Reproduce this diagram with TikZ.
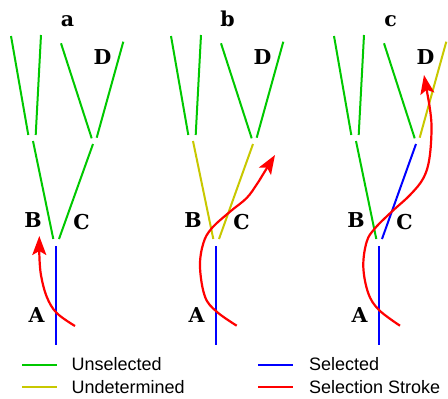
\documentclass[tikz,border=0pt]{standalone}
\usepackage{fontspec}
\setmainfont{Liberation Sans}
\newfontfamily\lblfont{DejaVu Serif}
\usetikzlibrary{arrows.meta}
\definecolor{cgreen}{RGB}{0,200,0}
\definecolor{cyellow}{RGB}{200,200,0}
\definecolor{cblue}{RGB}{0,0,255}
\definecolor{cred}{RGB}{255,0,0}
\tikzset{
  seg/.style={line width=2pt},
  stroke/.style={cred, line width=2.2pt, -{Stealth[length=19pt,width=14pt,inset=4pt]}},
  lbl/.style={anchor=base, inner sep=0pt, font=\lblfont\bfseries\fontsize{20.5}{24}\selectfont},
  legtext/.style={anchor=base west, inner sep=0pt, font=\fontsize{18}{21}\selectfont},
  legline/.style={line width=2pt},
}
\newcommand\drawbranches[9]{%
\begin{scope}[xshift=#2pt]
  \coordinate (#1l1s) at (11,36);      \coordinate (#1l1e) at (28.3,135);
  \coordinate (#1l2s) at (41,35);      \coordinate (#1l2e) at (35.7,135);
  \coordinate (#1l3s) at (61,43.3);    \coordinate (#1l3e) at (91.7,138.3);
  \coordinate (#1l4s) at (123.3,41.7); \coordinate (#1l4e) at (96.7,137.7);
  \coordinate (#1l5s) at (33,141);     \coordinate (#1l5e) at (53.3,239);
  \coordinate (#1l6s) at (93,144);     \coordinate (#1l6e) at (59,239);
  \coordinate (#1l7s) at (56,246);     \coordinate (#1l7e) at (56,345);
  \draw[seg,#3] (#1l1s) -- (#1l1e);
  \draw[seg,#4] (#1l2s) -- (#1l2e);
  \draw[seg,#5] (#1l3s) -- (#1l3e);
  \draw[seg,#6] (#1l4s) -- (#1l4e);
  \draw[seg,#7] (#1l5s) -- (#1l5e);
  \draw[seg,#8] (#1l6s) -- (#1l6e);
  \draw[seg,#9] (#1l7s) -- (#1l7e);
  \node[lbl] (#1title) at (67.5,26) {#1};
  \node[lbl] (#1D) at (102.5,64) {D};
  \node[lbl] (#1B) at (33,227) {B};
  \node[lbl] (#1C) at (81.5,229.5) {C};
  \node[lbl] (#1A) at (36.5,322) {A};
\end{scope}}
\begin{document}
\begin{tikzpicture}[x=1pt,y=-1pt]
\useasboundingbox (0,0) rectangle (448,399);
\drawbranches{a}{0}{cgreen}{cgreen}{cgreen}{cgreen}{cgreen}{cgreen}{cblue}
\drawbranches{b}{160}{cgreen}{cgreen}{cgreen}{cgreen}{cyellow}{cyellow}{cblue}
\drawbranches{c}{323}{cgreen}{cgreen}{cgreen}{cyellow}{cgreen}{cblue}{cblue}
% selection strokes
\coordinate (ra0) at (75,326);
\coordinate (ra1) at (39.3,236);
\draw[stroke] plot[smooth, tension=0.6] coordinates {(ra0) (56.7,313) (46.7,296.7) (40.8,274) (39.3,253)} -- (ra1);
\coordinate (rb0) at (236.7,325.7);
\coordinate (rb1) at (275,155);
\draw[stroke] plot[smooth, tension=0.6] coordinates {(rb0) (216.7,311.7) (205,296.7) (200,267) (203.3,243.3) (211.7,228.3) (230,211.7) (246.7,198) (257,184) (262,176)} -- (rb1);
\coordinate (rc0) at (400,325.7);
\coordinate (rc1) at (424,75);
\draw[stroke] plot[smooth, tension=0.6] coordinates {(rc0) (379,310) (368.3,293.3) (363.3,266.7) (366.7,241.7) (375,228.3) (391.7,211.7) (410,195) (423.3,178.3) (429.5,158) (431.5,125) (428.5,100)} -- (rc1);
% legend
\coordinate (legGa) at (22,365);  \coordinate (legGb) at (57,365);
\coordinate (legYa) at (22,387);  \coordinate (legYb) at (57,387);
\coordinate (legBa) at (258,365); \coordinate (legBb) at (293,365);
\coordinate (legRa) at (258,387); \coordinate (legRb) at (293,387);
\draw[legline, draw=cgreen] (legGa) -- (legGb);
\draw[legline, draw=cyellow] (legYa) -- (legYb);
\draw[legline, draw=cblue] (legBa) -- (legBb);
\draw[legline, draw=cred] (legRa) -- (legRb);
\node[legtext] (tun) at (71.5,370.7) {Unselected};
\node[legtext] (tund) at (71.5,393.3) {Undetermined};
\node[legtext] (tsel) at (309,370.7) {Selected};
\node[legtext] (tstr) at (309,393.3) {Selection Stroke};
\end{tikzpicture}
\end{document}
